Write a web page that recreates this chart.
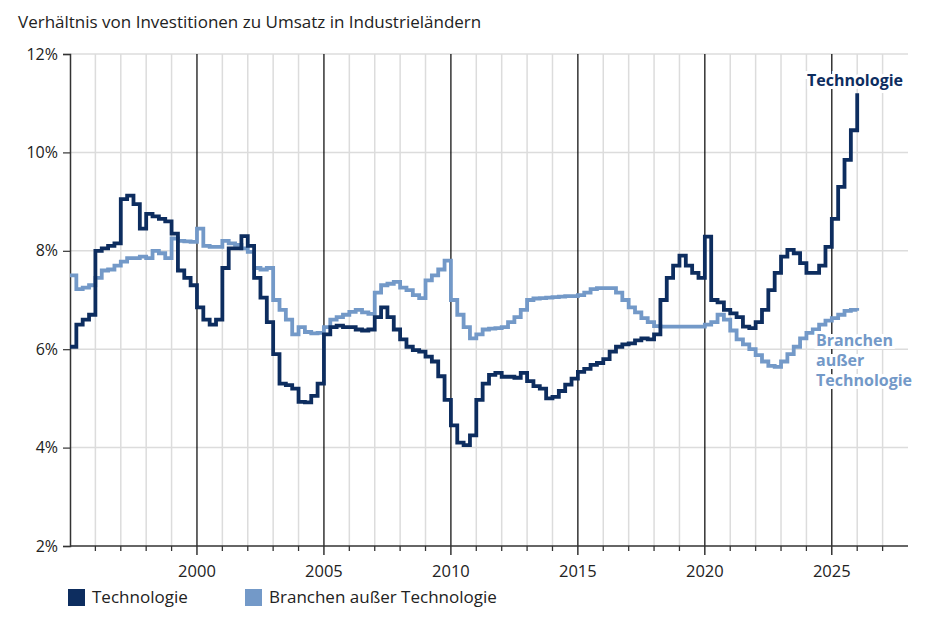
<!DOCTYPE html>
<html>
<head>
<meta charset="utf-8">
<script src="https://cdn.jsdelivr.net/npm/d3@7"></script>
<style>
  body { margin: 0; background: #fff; }
  svg { font-family: "Open Sans", sans-serif; }
</style>
</head>
<body>
<script>
//----------------------------
//data
//----------------------------
var seriesNames = ["Technologie", "Branchen außer Technologie"];

// quarterly values in percent, first quarter 1995 to first quarter 2026
var techValues = [
  6.05, 6.5, 6.6, 6.7,
  8.0, 8.05, 8.1, 8.15,
  9.05, 9.12, 8.95, 8.45,
  8.75, 8.7, 8.65, 8.6,
  8.35, 7.6, 7.45, 7.3,
  6.85, 6.6, 6.5, 6.6,
  7.65, 8.05, 8.05, 8.3,
  8.1, 7.45, 7.05, 6.55,
  5.9, 5.3, 5.27, 5.2,
  4.93, 4.92, 5.05, 5.3,
  6.3, 6.45, 6.48, 6.45,
  6.45, 6.4, 6.38, 6.4,
  6.65, 6.85, 6.65, 6.4,
  6.2, 6.05, 5.98, 5.95,
  5.85, 5.75, 5.45, 4.97,
  4.45, 4.1, 4.05, 4.25,
  4.97, 5.3, 5.48, 5.52,
  5.44, 5.44, 5.42, 5.52,
  5.35, 5.25, 5.2, 5.0,
  5.03, 5.15, 5.28, 5.4,
  5.54, 5.6, 5.68, 5.72,
  5.8, 5.95, 6.05, 6.1,
  6.12, 6.18, 6.22, 6.2,
  6.3, 7.0, 7.45, 7.7,
  7.9, 7.7, 7.55, 7.45,
  8.29, 7.0, 6.95, 6.8,
  6.73, 6.65, 6.46, 6.43,
  6.55, 6.8, 7.2, 7.55,
  7.88, 8.02, 7.95, 7.75,
  7.55, 7.55, 7.7, 8.08,
  8.65, 9.3, 9.85, 10.45,
  11.2
];

var otherValues = [
  7.5, 7.22, 7.25, 7.3,
  7.45, 7.6, 7.62, 7.7,
  7.78, 7.85, 7.85, 7.88,
  7.85, 8.0, 7.95, 7.85,
  8.25, 8.2, 8.19, 8.18,
  8.45, 8.1, 8.08, 8.08,
  8.2, 8.15, 8.12, 8.05,
  7.98, 7.65, 7.62, 7.65,
  7.0, 6.8, 6.6, 6.3,
  6.45, 6.35, 6.32, 6.33,
  6.45, 6.6, 6.65, 6.7,
  6.76, 6.8, 6.75, 6.72,
  7.15, 7.3, 7.33, 7.37,
  7.25, 7.2, 7.1, 7.04,
  7.4, 7.5, 7.62, 7.8,
  7.0, 6.7, 6.45, 6.22,
  6.3, 6.4, 6.42, 6.43,
  6.45, 6.55, 6.65, 6.8,
  7.0, 7.03, 7.04, 7.05,
  7.06, 7.07, 7.08, 7.08,
  7.1, 7.15, 7.22, 7.24,
  7.24, 7.24, 7.15, 7.0,
  6.85, 6.75, 6.63, 6.55,
  6.47, 6.46, 6.46, 6.46,
  6.46, 6.46, 6.46, 6.46,
  6.5, 6.55, 6.7, 6.6,
  6.38, 6.2, 6.1, 6.0,
  5.88, 5.75, 5.66, 5.64,
  5.75, 5.9, 6.05, 6.22,
  6.33, 6.4, 6.5, 6.58,
  6.63, 6.7, 6.78, 6.8,
  6.78
];

var yTicks = [2, 4, 6, 8, 10, 12];
var xLabels = [2000, 2005, 2010, 2015, 2020, 2025];
var otherLabelLines = ["Branchen", "außer", "Technologie"];

var techColor = "#0d2d5f";
var otherColor = "#7399c8";

//----------------------------
//D3 Code
//----------------------------
var width = 940;
var height = 623;
var margin = { top: 54, right: 32, bottom: 77, left: 70 };

var svg = d3
  .select("body")
  .append("svg")
  .attr("width", width)
  .attr("height", height);

var x = d3
  .scaleLinear()
  .domain([1995, 2028])
  .range([margin.left, width - margin.right]);

var y = d3
  .scaleLinear()
  .domain([2, 12])
  .range([height - margin.bottom, margin.top]);

// quarter start of each value
var quarters = d3.range(techValues.length).map(function(i) {
  return 1995 + i / 4;
});

// title
svg
  .append("text")
  .attr("x", 18)
  .attr("y", 28)
  .attr("font-size", 17)
  .attr("fill", "#222")
  .text("Verhältnis von Investitionen zu Umsatz in Industrieländern");

// horizontal grid
svg
  .append("g")
  .selectAll("line")
  .data(yTicks.slice(1))
  .enter()
  .append("line")
  .attr("x1", x(1995))
  .attr("x2", x(2028))
  .attr("y1", function(d) { return y(d); })
  .attr("y2", function(d) { return y(d); })
  .attr("stroke", "#dcdcdc")
  .attr("stroke-width", 1.5);

// vertical grid, one line each year
var years = d3.range(1996, 2028);
svg
  .append("g")
  .selectAll("line")
  .data(years)
  .enter()
  .append("line")
  .attr("x1", function(d) { return x(d); })
  .attr("x2", function(d) { return x(d); })
  .attr("y1", y(12))
  .attr("y2", function(d) { return d % 5 === 0 ? y(2) + 9 : y(2) + 5; })
  .attr("stroke", function(d) { return d % 5 === 0 ? "#000" : "#dcdcdc"; })
  .attr("stroke-width", function(d) { return d % 5 === 0 ? 1.2 : 1.5; });

// minor ticks below the axis
svg
  .append("g")
  .selectAll("line")
  .data(years.filter(function(d) { return d % 5 !== 0; }))
  .enter()
  .append("line")
  .attr("x1", function(d) { return x(d); })
  .attr("x2", function(d) { return x(d); })
  .attr("y1", y(2))
  .attr("y2", y(2) + 5)
  .attr("stroke", "#333")
  .attr("stroke-width", 1.2);

// x axis line
svg
  .append("line")
  .attr("x1", x(1995))
  .attr("x2", x(2028))
  .attr("y1", y(2))
  .attr("y2", y(2))
  .attr("stroke", "#333")
  .attr("stroke-width", 1.5);

// y axis
var yAxis = d3
  .axisLeft(y)
  .tickValues(yTicks)
  .tickSize(7)
  .tickPadding(5)
  .tickFormat(function(d) { return d + "%"; });

var yAxisG = svg
  .append("g")
  .attr("transform", "translate(" + x(1995) + ",0)")
  .call(yAxis);
yAxisG.select(".domain").attr("stroke", "#333").attr("stroke-width", 1.5);
yAxisG.selectAll(".tick line").attr("stroke", "#333").attr("stroke-width", 1.2);
yAxisG
  .selectAll(".tick text")
  .attr("font-family", "Open Sans, sans-serif")
  .attr("font-size", 16)
  .attr("fill", "#222");

// x labels
svg
  .append("g")
  .selectAll("text")
  .data(xLabels)
  .enter()
  .append("text")
  .attr("x", function(d) { return x(d); })
  .attr("y", y(2) + 31)
  .attr("text-anchor", "middle")
  .attr("font-size", 16.5)
  .attr("fill", "#222")
  .text(function(d) { return d; });

// lines
var line = d3
  .line()
  .curve(d3.curveStepAfter)
  .x(function(d, i) { return x(quarters[i]); })
  .y(function(d) { return y(d); });

svg
  .append("path")
  .datum(otherValues)
  .attr("fill", "none")
  .attr("stroke", otherColor)
  .attr("stroke-width", 3.8)
  .attr("d", line);

svg
  .append("path")
  .datum(techValues)
  .attr("fill", "none")
  .attr("stroke", techColor)
  .attr("stroke-width", 3.8)
  .attr("d", line);

// direct labels with white halo
svg
  .append("text")
  .attr("x", 903)
  .attr("y", 86)
  .attr("text-anchor", "end")
  .attr("font-size", 16)
  .attr("font-weight", "bold")
  .attr("fill", techColor)
  .attr("stroke", "#fff")
  .attr("stroke-width", 6)
  .attr("paint-order", "stroke")
  .text("Technologie");

svg
  .append("g")
  .selectAll("text")
  .data(otherLabelLines)
  .enter()
  .append("text")
  .attr("x", 816)
  .attr("y", function(d, i) { return 346 + i * 20; })
  .attr("font-size", 16)
  .attr("font-weight", "bold")
  .attr("fill", otherColor)
  .attr("stroke", "#fff")
  .attr("stroke-width", 6)
  .attr("paint-order", "stroke")
  .text(function(d) { return d; });

// legend
var legend = svg
  .append("g")
  .selectAll("g")
  .data(seriesNames)
  .enter()
  .append("g")
  .attr("transform", function(d, i) {
    return "translate(" + (i === 0 ? 68 : 245) + ",589)";
  });

legend
  .append("rect")
  .attr("width", 17)
  .attr("height", 17)
  .attr("fill", function(d, i) { return i === 0 ? techColor : otherColor; });

legend
  .append("text")
  .attr("x", 24)
  .attr("y", 14)
  .attr("font-size", 17)
  .attr("fill", "#222")
  .text(function(d) { return d; });
</script>
</body>
</html>
